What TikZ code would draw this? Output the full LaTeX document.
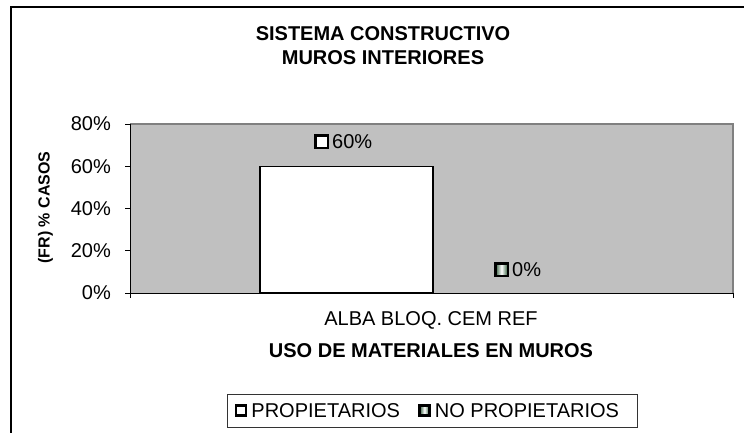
\documentclass[tikz,border=0pt]{standalone}
\usepackage{fontspec}
\setmainfont{Liberation Sans}
\usetikzlibrary{positioning}
\definecolor{plotgray}{RGB}{192, 192, 192}
\definecolor{rimgray}{RGB}{128, 128, 128}
\definecolor{markgreen}{RGB}{45, 90, 55}

\tikzset{
  lbl/.style={font=\fontsize{20}{24}\selectfont, inner sep=0pt},
  boldlbl/.style={font=\fontsize{20}{24.5}\selectfont\bfseries, inner sep=0pt},
  whitemark/.style={draw=black, line width=2.5pt, fill=white, minimum size=12.5pt, inner sep=0pt},
  greenmark/.style={draw=black, line width=2.5pt, left color=markgreen, right color=markgreen, middle color=white, minimum size=12.5pt, inner sep=0pt}
}

\begin{document}
\begin{tikzpicture}[x=1pt, y=-1pt]
                \clip (0,0) rectangle (744,432);
                \fill[white] (0,0) rectangle (744,432);
                \draw[line width=1.5pt] (11,445) -- (11,7) -- (755,7);
                % plot area
                \fill[plotgray] (130,124) rectangle (733,293);
                \draw[rimgray, line width=2pt] (130,124) -- (733,124) -- (733,293);
                \draw[line width=1pt] (130,124) -- (130,293) -- (733,293);
                \foreach \v [count=\i from 0] in {0,20,40,60,80} {
                    \draw[line width=1pt] (125,{293-\i*42.25}) -- (130,{293-\i*42.25});
                    \node[lbl, anchor=east] (tick\v) at (111,{293-\i*42.25}) {\v\%};
                }
                \draw[line width=1pt] (130,293) -- (130,298);
                \draw[line width=1pt] (733,293) -- (733,298);
                % bar
                \draw[line width=1.5pt, fill=white] (260,293) rectangle (433,166.7);
                \node[lbl, anchor=west] (val60) at (332,141.5) {60\%};
                \node[whitemark, left=3pt of val60] (mark60) {};
                \node[lbl, anchor=west] (val0) at (512,269.5) {0\%};
                \node[greenmark, left=3pt of val0] (mark0) {};
                % titles
                \node[boldlbl, align=center] (title) at (383,45.5) {SISTEMA CONSTRUCTIVO\\MUROS INTERIORES};
                \node[font=\fontsize{16}{19}\selectfont\bfseries, inner sep=0pt, rotate=90] (ytitle) at (45.5,207.5) {(FR) \% CASOS};
                \node[lbl] (category) at (431,320.5) {ALBA BLOQ. CEM REF};
                \node[boldlbl] (xtitle) at (431,351) {USO DE MATERIALES EN MUROS};
                % legend
                \node[draw=black!80, line width=1pt, minimum width=410pt, minimum height=33pt, inner sep=0pt] (legend) at (432,410.5) {};
                \node[whitemark, minimum size=10pt] (legmark1) at (241,410.5) {};
                \node[lbl, right=4pt of legmark1] (legtext1) {PROPIETARIOS};
                \node[greenmark, minimum size=10pt, right=18pt of legtext1] (legmark2) {};
                \node[lbl, right=4pt of legmark2] (legtext2) {NO PROPIETARIOS};
            \end{tikzpicture}
\end{document}
